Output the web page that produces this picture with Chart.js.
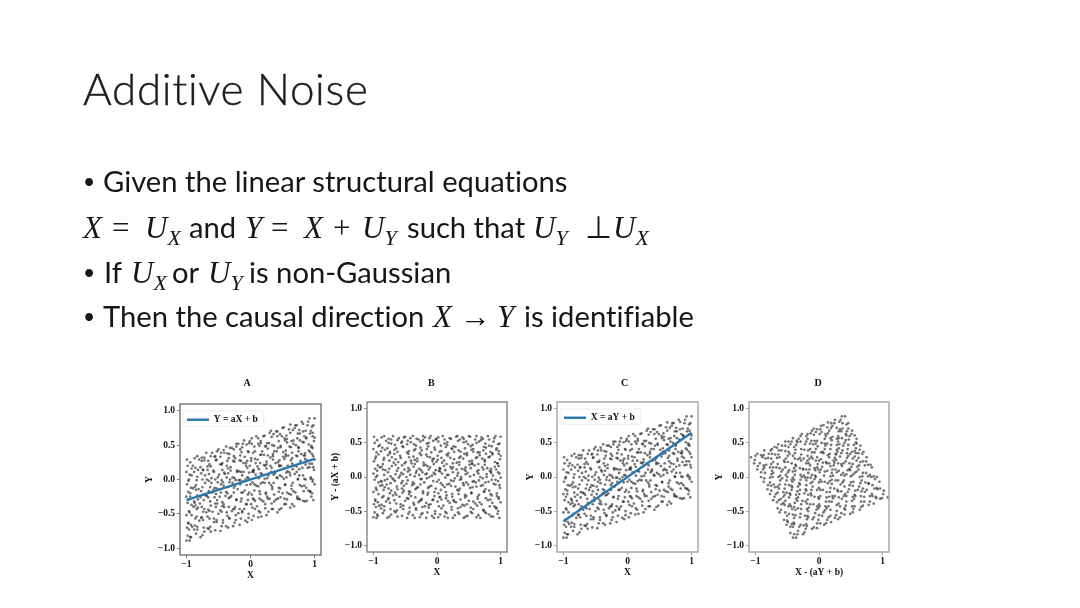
<!DOCTYPE html>
<html><head><meta charset="utf-8">
<script src="https://cdn.jsdelivr.net/npm/chart.js@4"></script>
<style>
html,body{margin:0;padding:0;background:#fff;width:1080px;height:608px;overflow:hidden}
.t{position:absolute;white-space:nowrap;color:#161616;font-family:Lato,sans-serif;font-size:29.2px;line-height:34px;font-variant-ligatures:none;filter:blur(.3px)}
.t i{font-family:"Liberation Serif",serif;font-size:31px}
.t b{font-family:"Liberation Serif",serif;font-size:31px;font-weight:400}
.t sub{font-family:"Liberation Serif",serif;font-style:italic;font-size:22px;line-height:0;vertical-align:-7px}
.d{font-size:21px}
#title{left:83px;top:61px;font-size:44px;line-height:54px;font-weight:300;letter-spacing:.65px;color:#1c1c1c;-webkit-text-stroke:.35px #1c1c1c}
canvas{position:absolute;filter:blur(.45px)}
</style></head><body>
<div class="t" id="title">Additive Noise</div>
<div class="t d" style="left:83px;top:164px">•</div>
<div class="t" style="left:103px;top:164px">Given the linear structural equations</div>

<div class="t" style="left:83px;top:210px"><i>X</i></div>
<div class="t" style="left:112px;top:210px"><b>=</b></div>
<div class="t" style="left:145px;top:210px"><i>U</i><sub>X</sub></div>
<div class="t" style="left:189px;top:210px">and</div>
<div class="t" style="left:245px;top:210px"><i>Y</i></div>
<div class="t" style="left:271px;top:210px"><b>=</b></div>
<div class="t" style="left:304px;top:210px"><i>X</i></div>
<div class="t" style="left:333px;top:210px"><b>+</b></div>
<div class="t" style="left:362px;top:210px"><i>U</i><sub>Y</sub></div>
<div class="t" style="left:407px;top:210px">such that</div>
<div class="t" style="left:533px;top:210px"><i>U</i><sub>Y</sub></div>
<div class="t" style="left:585px;top:210px"><b>⊥</b></div>
<div class="t" style="left:613px;top:210px"><i>U</i><sub>X</sub></div>

<div class="t d" style="left:83px;top:255px">•</div>
<div class="t" style="left:104px;top:255px">If</div>
<div class="t" style="left:131px;top:255px"><i>U</i><sub>X</sub></div>
<div class="t" style="left:172px;top:255px">or</div>
<div class="t" style="left:208px;top:255px"><i>U</i><sub>Y</sub></div>
<div class="t" style="left:249px;top:255px">is non-Gaussian</div>

<div class="t d" style="left:83px;top:299px">•</div>
<div class="t" style="left:103px;top:299px">Then the causal direction</div>
<div class="t" style="left:433px;top:299px"><i>X</i></div>
<div class="t" style="left:460px;top:299px"><b>→</b></div>
<div class="t" style="left:497px;top:299px"><i>Y</i></div>
<div class="t" style="left:524px;top:299px">is identifiable</div>
<canvas id="pA"></canvas><canvas id="pB"></canvas><canvas id="pC"></canvas><canvas id="pD"></canvas>
<script>
const panelNames = ['A','B','C','D'];
const xTicks = [-1,0,1];
const yTicks = [-1,-0.5,0,0.5,1];
const lineXs = [-1,1];
const lineYsA = [-0.3,0.3];
const lineYsC = [-0.65,0.65];
const X = [
-1,-.98,-.99,-.97,-1,-.96,-.98,-1,-.97,-.99,-.96,-1,-.98,-.99,
-.93,-.88,-.91,-.86,-.92,-.89,-.87,-.94,-.9,-.85,-.92,-.88,-.9,-.87,
-.78,-.83,-.8,-.76,-.84,-.79,-.82,-.77,-.81,-.75,-.83,-.78,-.8,-.76,
-.72,-.67,-.74,-.69,-.66,-.73,-.7,-.65,-.71,-.68,-.74,-.67,-.72,-.69,
-.62,-.57,-.64,-.59,-.55,-.63,-.6,-.56,-.61,-.65,-.58,-.62,-.55,-.6,
-.47,-.53,-.5,-.45,-.52,-.48,-.54,-.46,-.51,-.49,-.44,-.53,-.47,-.5,
-.38,-.43,-.36,-.41,-.44,-.39,-.35,-.42,-.37,-.4,-.45,-.36,-.41,-.38,
-.27,-.33,-.29,-.25,-.34,-.3,-.26,-.32,-.28,-.35,-.31,-.26,-.33,-.29,
-.17,-.23,-.19,-.15,-.22,-.2,-.24,-.16,-.21,-.18,-.25,-.16,-.22,-.19,
-.08,-.13,-.1,-.06,-.14,-.09,-.12,-.05,-.11,-.07,-.15,-.09,-.13,-.1,
.02,-.03,.01,.05,-.04,0,.03,-.02,.04,-.05,.01,-.03,.02,-.01,
.12,.07,.1,.14,.06,.09,.13,.05,.11,.08,.15,.07,.12,.09,
.17,.23,.2,.15,.24,.19,.22,.16,.21,.25,.18,.23,.16,.2,
.28,.33,.3,.26,.34,.29,.32,.25,.31,.27,.35,.29,.33,.3,
.42,.37,.4,.44,.36,.41,.38,.45,.39,.35,.43,.37,.42,.4,
.48,.53,.5,.46,.54,.49,.52,.45,.51,.55,.47,.53,.49,.5,
.62,.57,.6,.64,.56,.61,.58,.65,.59,.55,.63,.57,.62,.6,
.68,.73,.7,.66,.74,.69,.72,.65,.71,.75,.67,.73,.69,.7,
.82,.77,.8,.84,.76,.81,.78,.85,.79,.75,.83,.77,.82,.8,
.88,.93,.9,.86,.94,.89,.92,.85,.91,.95,.87,.93,.89,.9,
.98,.96,1,.97,.99,.98,1,.96,.97,.99,1,.97,.98,1,
-.95,-.94,-.96,-.93,-.97,-.95,-.92,-.96,-.94,-.93,-.97,-.95,-.92,-.94,
-.85,-.83,-.87,-.84,-.82,-.86,-.88,-.83,-.85,-.87,-.84,-.82,-.86,-.83,
-.75,-.73,-.77,-.74,-.72,-.76,-.78,-.73,-.75,-.71,-.77,-.74,-.76,-.72,
-.65,-.63,-.67,-.64,-.62,-.66,-.68,-.63,-.65,-.61,-.67,-.64,-.66,-.62,
-.55,-.53,-.57,-.54,-.52,-.56,-.58,-.53,-.55,-.51,-.57,-.54,-.56,-.52,
-.45,-.43,-.47,-.44,-.42,-.46,-.48,-.43,-.45,-.41,-.47,-.44,-.46,-.42,
-.35,-.33,-.37,-.34,-.32,-.36,-.38,-.33,-.35,-.31,-.37,-.34,-.36,-.32,
-.25,-.23,-.27,-.24,-.22,-.26,-.28,-.23,-.25,-.21,-.27,-.24,-.26,-.22,
-.15,-.13,-.17,-.14,-.12,-.16,-.18,-.13,-.15,-.11,-.17,-.14,-.16,-.12,
-.05,-.03,-.07,-.04,-.02,-.06,-.08,-.03,-.05,-.01,-.07,-.04,-.06,-.02,
.05,.03,.07,.04,.02,.06,.08,.03,.05,.01,.07,.04,.06,.02,
.15,.13,.17,.14,.12,.16,.18,.13,.15,.11,.17,.14,.16,.12,
.25,.23,.27,.24,.22,.26,.28,.23,.25,.21,.27,.24,.26,.22,
.35,.33,.37,.34,.32,.36,.38,.33,.35,.31,.37,.34,.36,.32,
.45,.43,.47,.44,.42,.46,.48,.43,.45,.41,.47,.44,.46,.42,
.55,.53,.57,.54,.52,.56,.58,.53,.55,.51,.57,.54,.56,.52,
.65,.63,.67,.64,.62,.66,.68,.63,.65,.61,.67,.64,.66,.62,
.75,.73,.77,.74,.72,.76,.78,.73,.75,.71,.77,.74,.76,.72,
.85,.83,.87,.84,.82,.86,.88,.83,.85,.81,.87,.84,.86,.82,
.95,.93,.97,.94,.92,.96,.98,.93,.95,.91,.97,.94,.96,.92];
const Y = [
-.89,-.82,-.7,-.63,-.52,-.46,-.34,-.25,-.18,-.07,0,.11,.2,.29,
-.84,-.73,-.69,-.57,-.52,-.4,-.34,-.25,-.13,-.08,.06,.11,.2,.31,
-.84,-.73,-.6,-.55,-.43,-.35,-.29,-.17,-.14,0,.04,.18,.29,.32,
-.76,-.71,-.59,-.48,-.44,-.3,-.23,-.17,-.05,0,.14,.19,.28,.39,
-.76,-.62,-.57,-.47,-.35,-.32,-.19,-.12,-.05,.08,.13,.19,.34,.39,
-.75,-.62,-.5,-.47,-.35,-.25,-.21,-.07,-.04,.07,.14,.29,.33,.44,
-.68,-.63,-.53,-.4,-.33,-.24,-.11,-.09,.03,.08,.22,.27,.39,.48,
-.68,-.57,-.46,-.43,-.27,-.24,-.12,0,.03,.16,.18,.34,.37,.46,
-.66,-.59,-.49,-.32,-.3,-.14,-.09,-.01,.11,.12,.26,.35,.48,.52,
-.6,-.48,-.43,-.36,-.19,-.16,-.03,.03,.11,.2,.27,.33,.47,.57,
-.59,-.5,-.36,-.29,-.22,-.07,-.04,.1,.13,.27,.31,.4,.52,.56,
-.55,-.43,-.39,-.28,-.16,-.09,.02,.11,.19,.24,.36,.41,.52,.63,
-.54,-.42,-.32,-.21,-.19,-.04,.01,.09,.21,.26,.41,.48,.53,.63,
-.47,-.43,-.28,-.25,-.11,-.05,.11,.16,.2,.35,.37,.53,.62,.68,
-.48,-.32,-.29,-.18,-.05,.03,.09,.21,.24,.34,.46,.49,.63,.7,
-.42,-.36,-.2,-.13,-.08,.04,.16,.19,.33,.34,.47,.6,.63,.75,
-.41,-.29,-.21,-.14,.03,.1,.12,.23,.35,.42,.47,.59,.68,.73,
-.39,-.28,-.19,-.05,0,.08,.19,.31,.35,.46,.57,.6,.75,.79,
-.31,-.29,-.1,-.09,.06,.17,.24,.3,.37,.47,.54,.67,.7,.84,
-.31,-.18,-.16,0,.03,.17,.23,.35,.42,.47,.6,.67,.79,.84,
-.3,-.2,-.07,0,.14,.18,.29,.37,.46,.56,.61,.68,.79,.89,
-.89,-.84,-.73,-.66,-.64,-.48,-.37,-.29,-.2,-.12,-.02,.07,.16,.25,
-.79,-.69,-.67,-.54,-.41,-.38,-.32,-.23,-.15,-.11,-.01,.14,.17,.34,
-.81,-.7,-.56,-.47,-.43,-.4,-.26,-.22,-.11,.06,.09,.14,.27,.32,
-.72,-.69,-.54,-.46,-.38,-.26,-.24,-.11,-.02,.02,.14,.22,.27,.34,
-.74,-.59,-.57,-.4,-.3,-.26,-.15,-.13,0,.03,.11,.28,.33,.41,
-.68,-.59,-.45,-.39,-.36,-.19,-.14,-.04,-.01,.1,.22,.24,.39,.43,
-.7,-.56,-.48,-.4,-.26,-.2,-.18,-.04,.09,.13,.2,.31,.38,.46,
-.63,-.52,-.43,-.4,-.29,-.19,-.05,-.01,.02,.13,.27,.31,.44,.52,
-.57,-.46,-.43,-.28,-.19,-.07,-.01,.06,.11,.24,.28,.4,.44,.52,
-.62,-.56,-.36,-.3,-.19,-.08,0,.02,.17,.2,.24,.41,.51,.53,
-.53,-.41,-.31,-.28,-.22,-.07,.07,.11,.14,.27,.3,.39,.48,.6,
-.48,-.46,-.3,-.17,-.1,-.06,.08,.15,.24,.29,.36,.49,.56,.6,
-.52,-.36,-.28,-.21,-.05,.02,.06,.2,.22,.36,.45,.49,.53,.64,
-.43,-.35,-.22,-.14,-.08,.07,.11,.17,.29,.32,.41,.5,.66,.71,
-.44,-.28,-.26,-.12,.02,.06,.2,.25,.28,.41,.49,.56,.66,.7,
-.36,-.28,-.19,-.07,.01,.1,.2,.3,.37,.4,.54,.57,.64,.76,
-.36,-.22,-.17,-.09,.06,.15,.2,.28,.39,.48,.52,.56,.72,.8,
-.28,-.25,-.08,.01,.11,.15,.27,.34,.41,.5,.57,.67,.72,.79,
-.32,-.17,-.12,.01,.06,.22,.28,.35,.38,.55,.61,.63,.71,.81,
-.25,-.17,-.03,.01,.18,.23,.34,.4,.49,.51,.63,.71,.77,.89];
const residY = [
-.59,-.52,-.4,-.33,-.22,-.16,-.04,.05,.12,.23,.3,.41,.5,.59,
-.57,-.46,-.42,-.3,-.25,-.13,-.07,.02,.14,.19,.33,.38,.47,.58,
-.6,-.49,-.36,-.31,-.19,-.11,-.05,.07,.1,.24,.28,.42,.53,.56,
-.55,-.5,-.38,-.27,-.23,-.09,-.02,.04,.16,.21,.35,.4,.49,.6,
-.58,-.44,-.39,-.29,-.17,-.14,-.01,.06,.13,.26,.31,.37,.52,.57,
-.6,-.47,-.35,-.32,-.2,-.1,-.06,.08,.11,.22,.29,.44,.48,.59,
-.56,-.51,-.41,-.28,-.21,-.12,.01,.03,.15,.2,.34,.39,.51,.6,
-.59,-.48,-.37,-.34,-.18,-.15,-.03,.09,.12,.25,.27,.43,.46,.55,
-.6,-.53,-.43,-.26,-.24,-.08,-.03,.05,.17,.18,.32,.41,.54,.58,
-.57,-.45,-.4,-.33,-.16,-.13,0,.06,.14,.23,.3,.36,.5,.6,
-.59,-.5,-.36,-.29,-.22,-.07,-.04,.1,.13,.27,.31,.4,.52,.56,
-.58,-.46,-.42,-.31,-.19,-.12,-.01,.08,.16,.21,.33,.38,.49,.6,
-.6,-.48,-.38,-.27,-.25,-.1,-.05,.03,.15,.2,.35,.42,.47,.57,
-.56,-.52,-.37,-.34,-.2,-.14,.02,.07,.11,.26,.28,.44,.53,.59,
-.6,-.44,-.41,-.3,-.17,-.09,-.03,.09,.12,.22,.34,.37,.51,.58,
-.57,-.51,-.35,-.28,-.23,-.11,.01,.04,.18,.19,.32,.45,.48,.6,
-.59,-.47,-.39,-.32,-.15,-.08,-.06,.05,.17,.24,.29,.41,.5,.55,
-.6,-.49,-.4,-.26,-.21,-.13,-.02,.1,.14,.25,.36,.39,.54,.58,
-.55,-.53,-.34,-.33,-.18,-.07,0,.06,.13,.23,.3,.43,.46,.6,
-.58,-.45,-.43,-.27,-.24,-.1,-.04,.08,.15,.2,.33,.4,.52,.57,
-.6,-.5,-.37,-.3,-.16,-.12,-.01,.07,.16,.26,.31,.38,.49,.59,
-.6,-.55,-.44,-.37,-.35,-.19,-.08,0,.09,.17,.27,.36,.45,.54,
-.53,-.43,-.41,-.28,-.15,-.12,-.06,.03,.11,.15,.25,.4,.43,.6,
-.58,-.47,-.33,-.24,-.2,-.17,-.03,.01,.12,.29,.32,.37,.5,.55,
-.52,-.49,-.34,-.26,-.18,-.06,-.04,.09,.18,.22,.34,.42,.47,.54,
-.57,-.42,-.4,-.23,-.13,-.09,.02,.04,.17,.2,.28,.45,.5,.58,
-.54,-.45,-.31,-.25,-.22,-.05,0,.1,.13,.24,.36,.38,.53,.57,
-.6,-.46,-.38,-.3,-.16,-.1,-.08,.06,.19,.23,.3,.41,.48,.56,
-.55,-.44,-.35,-.32,-.21,-.11,.03,.07,.1,.21,.35,.39,.52,.6,
-.52,-.41,-.38,-.23,-.14,-.02,.04,.11,.16,.29,.33,.45,.49,.57,
-.6,-.54,-.34,-.28,-.17,-.06,.02,.04,.19,.22,.26,.43,.53,.55,
-.55,-.43,-.33,-.3,-.24,-.09,.05,.09,.12,.25,.28,.37,.46,.58,
-.53,-.51,-.35,-.22,-.15,-.11,.03,.1,.19,.24,.31,.44,.51,.55,
-.6,-.44,-.36,-.29,-.13,-.06,-.02,.12,.14,.28,.37,.41,.45,.56,
-.54,-.46,-.33,-.25,-.19,-.04,0,.06,.18,.21,.3,.39,.55,.6,
-.58,-.42,-.4,-.26,-.12,-.08,.06,.11,.14,.27,.35,.42,.52,.56,
-.53,-.45,-.36,-.24,-.16,-.07,.03,.13,.2,.23,.37,.4,.47,.59,
-.56,-.42,-.37,-.29,-.14,-.05,0,.08,.19,.28,.32,.36,.52,.6,
-.51,-.48,-.31,-.22,-.12,-.08,.04,.11,.18,.27,.34,.44,.49,.56,
-.58,-.43,-.38,-.25,-.2,-.04,.02,.09,.12,.29,.35,.37,.45,.55,
-.54,-.46,-.32,-.28,-.11,-.06,.05,.11,.2,.22,.34,.42,.48,.6];
const residX = [
-.41,-.45,-.51,-.55,-.62,-.65,-.72,-.77,-.81,-.87,-.91,-.97,-1.02,-1.07,
-.34,-.41,-.43,-.5,-.53,-.59,-.63,-.68,-.75,-.77,-.85,-.88,-.93,-1,
-.25,-.31,-.39,-.41,-.48,-.53,-.56,-.63,-.65,-.73,-.75,-.83,-.89,-.91,
-.21,-.24,-.3,-.37,-.39,-.47,-.51,-.54,-.61,-.64,-.72,-.75,-.8,-.86,
-.11,-.19,-.22,-.28,-.34,-.36,-.43,-.47,-.51,-.59,-.62,-.65,-.74,-.76,
-.03,-.1,-.17,-.19,-.26,-.31,-.34,-.42,-.43,-.49,-.53,-.62,-.64,-.7,
.02,-.01,-.06,-.14,-.18,-.23,-.3,-.31,-.38,-.41,-.49,-.52,-.59,-.64,
.11,.05,-.01,-.03,-.12,-.13,-.2,-.27,-.29,-.36,-.37,-.46,-.48,-.53,
.19,.15,.09,0,-.01,-.1,-.13,-.18,-.25,-.25,-.33,-.38,-.45,-.48,
.25,.18,.15,.11,.02,0,-.07,-.11,-.15,-.2,-.24,-.28,-.36,-.41,
.33,.28,.2,.16,.12,.04,.02,-.06,-.07,-.15,-.18,-.23,-.29,-.32,
.4,.33,.31,.25,.18,.14,.08,.03,-.02,-.05,-.11,-.14,-.2,-.27,
.49,.42,.36,.3,.29,.2,.18,.13,.06,.03,-.05,-.09,-.12,-.18,
.54,.52,.43,.41,.34,.3,.21,.18,.16,.07,.06,-.03,-.08,-.11,
.64,.55,.53,.47,.39,.35,.31,.24,.23,.17,.1,.09,.01,-.03,
.69,.66,.57,.53,.5,.43,.36,.35,.27,.26,.19,.11,.1,.03,
.78,.71,.67,.63,.53,.49,.48,.42,.35,.31,.28,.21,.16,.13,
.86,.8,.75,.67,.64,.59,.53,.46,.44,.38,.31,.3,.21,.19,
.9,.89,.78,.78,.69,.63,.59,.56,.52,.46,.42,.35,.33,.25,
.99,.92,.91,.82,.8,.72,.69,.62,.58,.55,.48,.44,.37,.34,
1.08,1.02,.95,.91,.83,.81,.75,.7,.65,.59,.56,.52,.46,.41,
-.36,-.39,-.45,-.49,-.5,-.6,-.66,-.7,-.75,-.8,-.86,-.91,-.96,-1.01,
-.33,-.39,-.4,-.47,-.54,-.56,-.6,-.65,-.69,-.71,-.77,-.86,-.87,-.97,
-.23,-.29,-.37,-.42,-.44,-.46,-.54,-.56,-.62,-.72,-.74,-.77,-.84,-.87,
-.19,-.2,-.29,-.33,-.38,-.45,-.46,-.53,-.58,-.61,-.67,-.72,-.75,-.79,
-.08,-.17,-.18,-.28,-.33,-.36,-.42,-.43,-.5,-.52,-.57,-.66,-.69,-.74,
-.03,-.08,-.16,-.19,-.21,-.3,-.33,-.39,-.41,-.47,-.54,-.55,-.63,-.66,
.08,0,-.04,-.09,-.17,-.2,-.21,-.29,-.37,-.39,-.43,-.49,-.53,-.58,
.13,.07,.01,0,-.07,-.12,-.2,-.22,-.24,-.3,-.38,-.41,-.48,-.53,
.18,.12,.1,.02,-.03,-.1,-.13,-.17,-.2,-.28,-.3,-.37,-.39,-.43,
.3,.27,.16,.12,.06,0,-.05,-.06,-.14,-.16,-.18,-.28,-.34,-.35,
.35,.28,.22,.21,.17,.09,.01,-.01,-.03,-.1,-.12,-.17,-.22,-.29,
.41,.4,.31,.24,.2,.17,.09,.05,0,-.03,-.07,-.14,-.18,-.2,
.53,.43,.39,.35,.26,.22,.2,.12,.11,.03,-.02,-.05,-.07,-.13,
.56,.52,.45,.4,.37,.28,.26,.23,.16,.14,.09,.04,-.05,-.08,
.66,.57,.56,.48,.4,.38,.3,.27,.25,.18,.13,.09,.04,.02,
.71,.66,.61,.54,.5,.45,.39,.33,.29,.28,.2,.18,.14,.07,
.8,.72,.69,.65,.56,.51,.48,.44,.37,.32,.3,.28,.19,.14,
.84,.83,.73,.68,.62,.6,.53,.49,.45,.4,.36,.31,.28,.24,
.96,.87,.84,.77,.74,.65,.62,.58,.56,.47,.43,.42,.37,.32,
1.01,.96,.88,.86,.77,.74,.68,.64,.59,.58,.51,.46,.43,.36];

const zip = (a,b) => a.map((v,i) => ({x:v,y:b[i]}));
const serif = '"Liberation Serif", serif';
const tickFont = {family:serif,size:9.5,weight:'bold'};

const panels = [
 {id:'pA',name:panelNames[0],xs:X,ys:Y,xTitle:'X',yTitle:'Y',lineYs:lineYsA,legend:'Y = aX + b',spine:'#7d7d7d',
  left:137,height:211,padL:7,axisW:36,padR:36,gap:15,titleShift:-3.5},
 {id:'pB',name:panelNames[1],xs:X,ys:residY,xTitle:'X',yTitle:'Y - (aX + b)',spine:'#8a8a8a',
  left:321,height:208,padL:9,axisW:37,padR:34,gap:13,titleShift:-5.7},
 {id:'pC',name:panelNames[2],xs:X,ys:Y,xTitle:'X',yTitle:'Y',lineYs:lineYsC,legend:'X = aY + b',spine:'#a8a8a8',
  left:515,height:208,padL:10,axisW:32,padR:37,gap:13,titleShift:-2.8},
 {id:'pD',name:panelNames[3],xs:residX,ys:Y,xTitle:'X - (aY + b)',yTitle:'Y',spine:'#a8a8a8',
  left:708,height:208,padL:6,axisW:35,padR:39,gap:13,titleShift:-1}
];

const frame = {
 id:'frame',
 afterLayout(c,args,o){
  const a=c.chartArea,t=c.titleBlock,l=c.legend;
  const mid=(a.left+a.right)/2+o.shift, half=(t.right-t.left)/2;
  t.left=mid-half;t.right=mid+half;
  if(l&&l.options.display){l.left=a.left+3;l.right=a.right;l.top=a.top+7;l.bottom=a.bottom;}
 },
 afterDatasetsDraw(c,args,o){
  const a=c.chartArea,g=c.ctx,l=c.legend;
  g.save();
  g.strokeStyle=o.color;g.lineWidth=1.5;
  g.strokeRect(a.left,a.top,a.right-a.left,a.bottom-a.top);
  if(l&&l.options.display){
   g.strokeStyle='#e8e8e8';g.lineWidth=.8;
   g.beginPath();g.roundRect(l.left,l.top,l.legendHitBoxes[0].width+10,15.5,2);g.stroke();
  }
  g.restore();
 }
};

panels.forEach(p=>{
 const cv=document.getElementById(p.id);
 cv.style.left=p.left+'px';cv.style.top='372px';
 cv.style.width='220px';cv.style.height=p.height+'px';
 cv.width=220;cv.height=p.height;
 const datasets=[{label:'points',data:zip(p.xs,p.ys),backgroundColor:'rgba(30,30,30,.62)',borderWidth:0,pointRadius:1.35,showLine:false,order:2}];
 if(p.legend) datasets.push({label:p.legend,data:zip(lineXs,p.lineYs),showLine:true,borderColor:'#2b78ad',backgroundColor:'#2b78ad',borderWidth:2.4,pointRadius:0,pointStyle:'line',order:1});
 new Chart(cv,{
  type:'scatter',
  data:{datasets},
  plugins:[frame],
  options:{
   responsive:false,animation:false,
   layout:{padding:{left:p.padL,right:p.padR,top:5,bottom:1.5}},
   plugins:{
    frame:{color:p.spine,shift:p.titleShift},
    tooltip:{enabled:false},
    title:{display:true,text:p.name,color:'#111',font:{family:serif,size:10,weight:'bold',lineHeight:1.2},padding:{top:0,bottom:p.gap}},
    legend:{display:!!p.legend,position:'chartArea',align:'start',
     labels:{filter:i=>i.text!=='points',usePointStyle:true,pointStyle:'line',pointStyleWidth:22,boxWidth:22,boxHeight:8,padding:4,color:'#111',font:tickFont}}
   },
   scales:{
    x:{type:'linear',min:-1.1,max:1.1,
     afterBuildTicks:s=>{s.ticks=xTicks.map(v=>({value:v}))},
     afterFit:s=>{s.height=26.5},
     grid:{drawOnChartArea:false,color:p.spine,tickLength:3},border:{display:false},
     ticks:{font:tickFont,color:'#111',padding:1,maxRotation:0,autoSkip:false,callback:v=>String(v).replace('-','−')},
     title:{display:true,text:p.xTitle,color:'#111',font:tickFont,padding:{top:1,bottom:0}}},
    y:{type:'linear',min:-1.1,max:1.1,
     afterBuildTicks:s=>{s.ticks=yTicks.map(v=>({value:v}))},
     afterFit:s=>{s.width=p.axisW},
     grid:{drawOnChartArea:false,color:p.spine,tickLength:3},border:{display:false},
     ticks:{font:tickFont,color:'#111',padding:2,autoSkip:false,callback:v=>Number(v).toFixed(1).replace('-','−')},
     title:{display:true,text:p.yTitle,color:'#111',font:tickFont,padding:{top:0,bottom:2}}}
   }
  }
 });
});
</script>
</body></html>
